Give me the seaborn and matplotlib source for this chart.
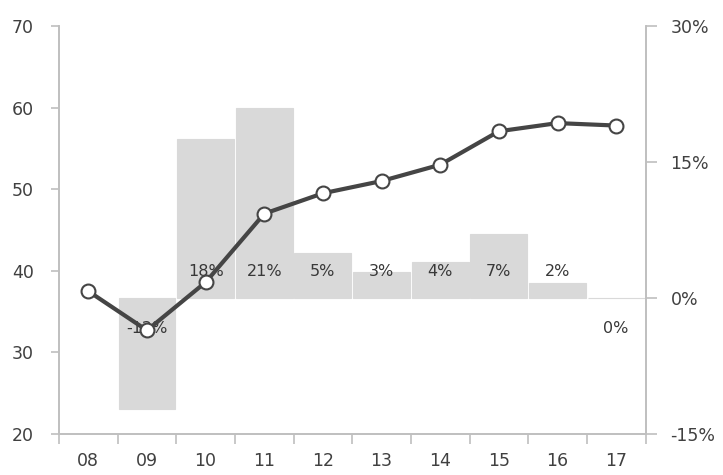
import matplotlib
matplotlib.use("Agg")
import matplotlib.pyplot as plt
from matplotlib.ticker import FixedLocator, PercentFormatter
import seaborn as sns
import pandas as pd

# Fiscal years (two-digit) and the two series
years = ["08", "09", "10", "11", "12", "13", "14", "15", "16", "17"]
level = [37.5, 32.7, 38.6, 47.0, 49.5, 51.0, 53.0, 57.1, 58.1, 57.8]
growth_years = ["09", "10", "11", "12", "13", "14", "15", "16", "17"]
growth = [-12.2, 17.5, 21.0, 5.0, 2.9, 4.0, 7.1, 1.7, 0.0]

left_ticks = [20, 30, 40, 50, 60, 70]
right_ticks = [-15, 0, 15, 30]

sns.set_theme(style="white")
plt.rcParams["font.family"] = ["DejaVu Sans"]
plt.rcParams["axes.unicode_minus"] = False

text_color = "#404040"
axis_color = "#bfbfbf"
bar_color = "#d9d9d9"

fig = plt.figure(figsize=(7.23, 4.75), dpi=100)
W, H = 723, 475
ax = fig.add_axes([59 / W, 1 - 434 / H, (645.5 - 59) / W, (434 - 26) / H])
ax2 = ax.twinx()

# Growth bars on the right-hand (percentage) axis
bars_df = pd.DataFrame({"year": growth_years, "growth": growth})
sns.barplot(data=bars_df, x="year", y="growth", order=years, ax=ax2,
            color=bar_color, saturation=1, width=0.97,
            edgecolor=bar_color, linewidth=0.8)
for yr, g in zip(growth_years, growth):
    xpos = years.index(yr)
    ypos = 2.9 if g > 0 else -3.4
    ax2.text(xpos, ypos, f"{g:.0f}%", ha="center", va="center",
             fontsize=11.5, color="#383838")

# Level line on the left-hand axis, drawn above the bars
line_df = pd.DataFrame({"x": range(len(years)), "level": level})
sns.lineplot(data=line_df, x="x", y="level", ax=ax, color="#454545",
             linewidth=3, marker="o", markersize=10,
             markerfacecolor="white", markeredgecolor="#454545",
             markeredgewidth=1.5)
ax.set_zorder(ax2.get_zorder() + 1)
ax.patch.set_visible(False)

ax.set_xlim(-0.5, len(years) - 0.5)
ax2.set_xlim(-0.5, len(years) - 0.5)
ax.set_ylim(20, 70)
ax2.set_ylim(-15, 30)

ax.set_yticks(left_ticks)
ax2.set_yticks(right_ticks)
ax2.yaxis.set_major_formatter(PercentFormatter(decimals=0))

ax.set_xticks(range(len(years)))
ax.set_xticklabels(years)
ax.xaxis.set_minor_locator(FixedLocator([i - 0.5 for i in range(len(years) + 1)]))
for a in (ax, ax2):
    a.set_xlabel("")
    a.set_ylabel("")
ax2.tick_params(axis="x", which="both", length=0, labelbottom=False)

for a in (ax, ax2):
    for s in a.spines.values():
        s.set_color(axis_color)
        s.set_linewidth(1.2)
    a.spines["top"].set_visible(False)
    a.grid(False)

ax.tick_params(axis="x", which="major", length=0, pad=13,
               labelsize=12.5, labelcolor=text_color)
ax.tick_params(axis="x", which="minor", length=7, width=1.2,
               color=axis_color, direction="out", bottom=True)
ax.tick_params(axis="y", length=6, width=1.2, color=axis_color,
               direction="out", pad=12, labelsize=12.5, labelcolor=text_color,
               left=True)
ax2.tick_params(axis="y", length=8, width=1.2, color=axis_color,
                direction="out", pad=10, labelsize=12.5, labelcolor=text_color,
                right=True)

fig.savefig("out.png", dpi=100)
